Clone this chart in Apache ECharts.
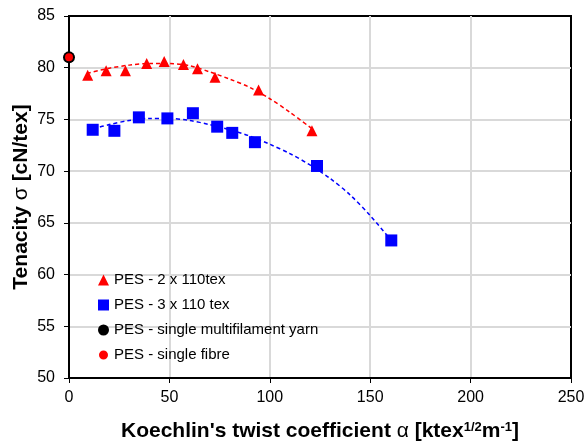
<!DOCTYPE html>
<html>
<head>
<meta charset="utf-8">
<script src="https://cdn.jsdelivr.net/npm/echarts@6/dist/echarts.min.js"></script>
<style>
  html, body { margin: 0; padding: 0; background: #fff; }
  #chart { width: 584px; height: 445px; }
</style>
</head>
<body>
<div id="chart"></div>
<script>
// measured points
const ply2X = [9.3, 18.5, 28.1, 38.7, 47.4, 57, 64, 72.7, 94.4, 121];
const ply2Y = [79.27, 79.7, 79.7, 80.4, 80.6, 80.3, 79.9, 79.07, 77.85, 73.9];
const ply3X = [11.8, 22.6, 34.8, 49, 61.7, 73.8, 81.3, 92.6, 123.5, 160.5];
const ply3Y = [74.0, 73.9, 75.2, 75.1, 75.6, 74.3, 73.7, 72.8, 70.5, 63.3];
const yarnPoint = [0, 81.0];
const fibrePoint = [0, 81.0];

// dashed trend curves
const trend2X = [9, 20, 30, 40, 50, 60, 70, 80, 90, 100, 110, 121];
const trend2Y = [79.45, 79.95, 80.25, 80.4, 80.4, 80.2, 79.6, 78.9, 78.1, 77.0, 75.7, 74.1];
const trend3X = [12, 20, 30, 40, 50, 60, 70, 80, 90, 100, 110, 120, 130, 140, 150, 160.5];
const trend3Y = [74.1, 74.5, 74.9, 75.1, 75.1, 74.9, 74.5, 74.0, 73.4, 72.6, 71.7, 70.6, 69.3, 67.7, 65.7, 63.3];

const legendNames = ['PES - 2 x 110tex', 'PES - 3 x 110 tex', 'PES - single multifilament yarn', 'PES - single fibre'];

const zip = (xs, ys) => xs.map((x, i) => [x, ys[i]]);

const chart = echarts.init(document.getElementById('chart'));
const font = 'Arial, "Liberation Sans", sans-serif';

chart.setOption({
  animation: false,
  textStyle: { fontFamily: font },
  grid: {
    left: 69, right: 13, top: 16, bottom: 67,
    outerBoundsMode: 'none', containLabel: false,
    show: true, borderColor: '#000', borderWidth: 2
  },
  legend: {
    orient: 'vertical',
    left: 92,
    top: 267,
    itemWidth: 11,
    itemHeight: 11,
    itemGap: 9,
    textStyle: { fontSize: 15, color: '#000', fontFamily: font, lineHeight: 16 },
    data: [
      { name: legendNames[0], icon: 'triangle' },
      { name: legendNames[1], icon: 'rect' },
      { name: legendNames[2], icon: 'circle' },
      { name: legendNames[3], icon: 'circle', itemStyle: { borderColor: '#fff', borderWidth: 2 } }
    ]
  },
  xAxis: {
    type: 'value',
    min: 0, max: 250, interval: 50,
    name: "Koechlin's twist coefficient {g|α} [ktex{sup|1/2}m{sup|-1}]",
    nameLocation: 'middle',
    nameGap: 43,
    nameTextStyle: {
      fontSize: 21, fontWeight: 'bold', color: '#000', fontFamily: font,
      rich: {
        g: { fontSize: 21, fontWeight: 'normal', color: '#000', fontFamily: font },
        sup: { fontSize: 13, fontWeight: 'bold', color: '#000', verticalAlign: 'top', fontFamily: font }
      }
    },
    axisLine: { lineStyle: { color: '#000', width: 2 } },
    axisTick: { show: true, length: 5, lineStyle: { color: '#000' } },
    axisLabel: { fontSize: 16, color: '#000', margin: 12 },
    splitLine: { showMaxLine: false, lineStyle: { color: '#d9d9d9', width: 2 } }
  },
  yAxis: {
    type: 'value',
    min: 50, max: 85, interval: 5,
    name: 'Tenacity {g|σ} [cN/tex]',
    nameLocation: 'middle',
    nameGap: 37,
    nameMoveOverlap: false,
    nameTextStyle: {
      fontSize: 21, fontWeight: 'bold', color: '#000', fontFamily: font,
      rich: { g: { fontSize: 21, fontWeight: 'normal', color: '#000', fontFamily: font } }
    },
    axisLine: { lineStyle: { color: '#000', width: 2 } },
    axisTick: { show: true, length: 5, lineStyle: { color: '#000' } },
    axisLabel: { fontSize: 16, color: '#000', margin: 14 },
    splitLine: { showMaxLine: false, lineStyle: { color: '#d9d9d9', width: 2 } }
  },
  series: [
    {
      type: 'line', name: 'trend2', data: zip(trend2X, trend2Y), smooth: 0.3,
      showSymbol: false, silent: true,
      lineStyle: { color: '#ff0000', width: 1.5, type: [4, 3] }
    },
    {
      type: 'line', name: 'trend3', data: zip(trend3X, trend3Y), smooth: 0.3,
      showSymbol: false, silent: true,
      lineStyle: { color: '#0000ff', width: 1.5, type: [4, 3] }
    },
    {
      type: 'scatter', name: legendNames[0], data: zip(ply2X, ply2Y),
      symbol: 'triangle', symbolSize: 11, clip: false,
      itemStyle: { color: '#ff0000', opacity: 1 }
    },
    {
      type: 'scatter', name: legendNames[1], data: zip(ply3X, ply3Y),
      symbol: 'rect', symbolSize: 12, clip: false,
      itemStyle: { color: '#0000ff', opacity: 1 }
    },
    {
      type: 'scatter', name: legendNames[2], data: [yarnPoint],
      symbol: 'circle', symbolSize: 12, clip: false,
      itemStyle: { color: '#000', opacity: 1 }
    },
    {
      type: 'scatter', name: legendNames[3], data: [fibrePoint],
      symbol: 'circle', symbolSize: 8, clip: false,
      itemStyle: { color: '#ff0000', opacity: 1 }
    }
  ]
});
</script>
</body>
</html>
